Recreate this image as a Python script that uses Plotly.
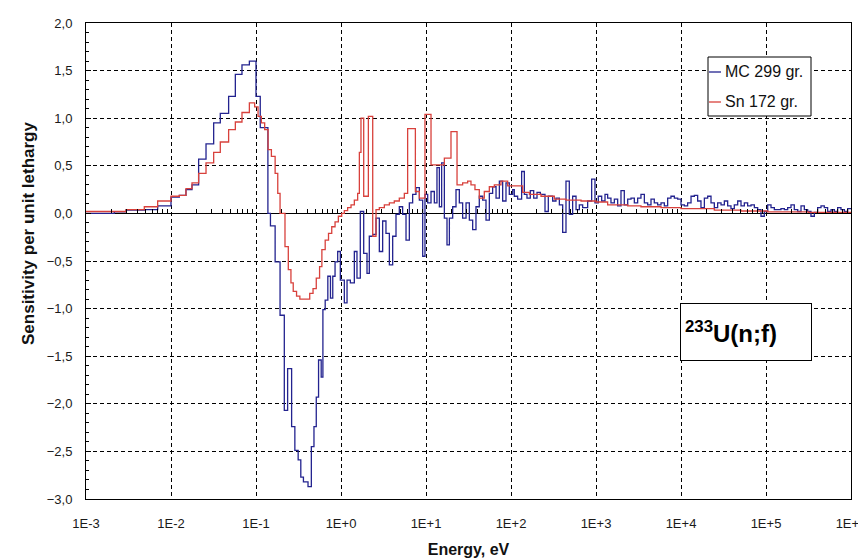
import numpy as np
import plotly.graph_objects as go

# ---- data: log10 of lower group boundary (eV) and sensitivity per unit lethargy ----
mc_log_e = [
    -3.000, -2.667, -2.529, -2.314, -2.157, -2.000, -1.902, -1.824, -1.753, -1.675,
    -1.588, -1.498, -1.420, -1.322, -1.243, -1.165, -1.078, -1.000, -0.950, -0.860,
    -0.830, -0.775, -0.717, -0.667, -0.628, -0.581, -0.543, -0.504, -0.473, -0.442,
    -0.388, -0.349, -0.318, -0.291, -0.264, -0.233, -0.213, -0.186, -0.155, -0.124,
    -0.097, -0.070, -0.039, -0.008, 0.039, 0.071, 0.110, 0.157, 0.188, 0.227,
    0.267, 0.306, 0.333, 0.373, 0.412, 0.451, 0.490, 0.529, 0.569, 0.608,
    0.647, 0.686, 0.725, 0.765, 0.804, 0.843, 0.882, 0.922, 0.961, 0.988,
    1.020, 1.059, 1.098, 1.129, 1.157, 1.184, 1.216, 1.247, 1.275, 1.314,
    1.353, 1.392, 1.431, 1.471, 1.510, 1.549, 1.588, 1.627, 1.667, 1.706,
    1.745, 1.784, 1.824, 1.863, 1.902, 1.941, 1.980, 2.020, 2.039, 2.078,
    2.125, 2.157, 2.188, 2.227, 2.267, 2.306, 2.345, 2.400, 2.439, 2.490,
    2.529, 2.569, 2.608, 2.647, 2.686, 2.725, 2.765, 2.804, 2.843, 2.902,
    2.949, 2.988, 3.027, 3.067, 3.106, 3.137, 3.176, 3.216, 3.255, 3.294,
    3.333, 3.373, 3.412, 3.451, 3.490, 3.529, 3.569, 3.608, 3.647, 3.686,
    3.725, 3.765, 3.804, 3.843, 3.882, 3.922, 3.961, 4.000, 4.039, 4.078,
    4.118, 4.157, 4.196, 4.235, 4.275, 4.314, 4.353, 4.392, 4.431, 4.471,
    4.510, 4.549, 4.588, 4.627, 4.667, 4.706, 4.745, 4.784, 4.824, 4.863,
    4.902, 4.941, 4.980, 5.020, 5.059, 5.098, 5.137, 5.176, 5.216, 5.255,
    5.294, 5.333, 5.373, 5.412, 5.451, 5.490, 5.529, 5.569, 5.608, 5.647,
    5.686, 5.725, 5.765, 5.804, 5.843, 5.882, 5.922, 5.961,
]
mc_sens = [
    0.00, 0.015, 0.035, 0.04, 0.08, 0.17, 0.19, 0.25, 0.30, 0.57,
    0.73, 0.95, 1.05, 1.23, 1.46, 1.56, 1.60, 1.23, 0.90, 0.00,
    -0.13, -0.51, -1.07, -2.07, -1.63, -2.24, -2.49, -2.59, -2.77, -2.82,
    -2.87, -2.45, -2.24, -1.93, -1.54, -1.72, -1.01, -0.91, -0.66, -0.89,
    -0.66, -0.51, -0.40, -0.70, -0.94, -0.70, -0.73, -0.40, -0.68, 0.02,
    -0.42, -0.63, -0.24, -0.22, -0.05, -0.40, -0.08, -0.21, -0.54, -0.24,
    -0.01, 0.07, -0.01, -0.28, 0.11, 0.20, 0.27, 0.14, -0.45, 0.20,
    0.11, 0.23, 0.11, 0.48, 0.07, 0.53, -0.05, -0.33, -0.05, 0.07,
    0.25, 0.11, -0.05, 0.11, -0.07, -0.17, 0.07, 0.18, 0.14, -0.07,
    0.21, 0.28, 0.16, 0.34, 0.13, 0.32, 0.20, 0.25, 0.18, 0.15,
    0.44, 0.20, 0.16, 0.24, 0.16, 0.22, 0.20, 0.02, 0.18, 0.13,
    0.16, 0.09, -0.20, 0.34, -0.01, 0.18, 0.04, 0.09, 0.06, 0.13,
    0.36, 0.11, 0.18, 0.13, 0.20, 0.16, 0.11, 0.15, 0.08, 0.24,
    0.09, 0.15, 0.16, 0.11, 0.16, 0.20, 0.11, 0.09, 0.15, 0.11,
    0.09, 0.11, 0.08, 0.16, 0.18, 0.16, 0.15, 0.09, 0.08, 0.11,
    0.18, 0.19, 0.13, 0.06, 0.16, 0.18, 0.11, 0.06, 0.11, 0.09,
    0.13, 0.08, 0.05, 0.09, 0.13, 0.08, 0.11, 0.08, 0.09, 0.06,
    0.04, -0.03, 0.02, 0.09, 0.06, 0.04, 0.04, 0.05, 0.04, 0.06,
    0.09, 0.04, 0.02, 0.08, 0.04, 0.02, -0.03, 0.01, 0.06, 0.08,
    0.06, 0.02, 0.04, 0.02, 0.06, 0.04, 0.02, 0.05,
]
sn_log_e = [
    -3.000, -2.529, -2.314, -2.157, -2.000, -1.902, -1.824, -1.753, -1.675, -1.588,
    -1.498, -1.420, -1.322, -1.243, -1.165, -1.078, -1.016, -0.976, -0.937, -0.898,
    -0.858, -0.819, -0.775, -0.744, -0.717, -0.659, -0.620, -0.589, -0.562, -0.523,
    -0.484, -0.368, -0.329, -0.291, -0.252, -0.225, -0.186, -0.147, -0.109, -0.070,
    -0.031, 0.008, 0.039, 0.078, 0.118, 0.157, 0.196, 0.216, 0.235, 0.267,
    0.322, 0.373, 0.412, 0.451, 0.510, 0.569, 0.627, 0.686, 0.745, 0.784,
    0.875, 0.922, 0.988, 1.059, 1.216, 1.294, 1.365, 1.431, 1.490, 1.529,
    1.576, 1.627, 1.686, 1.745, 1.804, 1.882, 1.961, 2.137, 2.216, 2.353,
    2.510, 2.647, 2.824, 3.000, 3.137, 3.373, 3.529, 3.765, 4.000, 4.392,
    4.706, 5.020, 5.500,
]
sn_sens = [
    0.02, 0.04, 0.07, 0.13, 0.18, 0.19, 0.26, 0.32, 0.42, 0.53,
    0.64, 0.75, 0.88, 0.96, 1.06, 1.16, 1.12, 1.02, 0.95, 0.88,
    0.67, 0.60, 0.42, 0.21, 0.00, -0.35, -0.59, -0.73, -0.82, -0.87,
    -0.90, -0.84, -0.79, -0.68, -0.56, -0.38, -0.28, -0.21, -0.14, -0.09,
    -0.03, 0.00, 0.03, 0.06, 0.09, 0.14, 0.21, 0.64, 1.00, 0.18,
    1.02, -0.24, 0.04, 0.06, 0.09, 0.11, 0.13, 0.16, 0.21, 0.89,
    0.23, 0.16, 1.04, 0.51, 0.58, 0.86, 0.30, 0.32, 0.34, 0.30,
    0.25, 0.16, 0.23, 0.28, 0.30, 0.34, 0.29, 0.22, 0.20, 0.18,
    0.15, 0.14, 0.13, 0.12, 0.09, 0.08, 0.07, 0.06, 0.05, 0.035,
    0.025, 0.015, 0.01,
]
log_e_max = 6.0

x_tick_vals = [1e-3, 1e-2, 1e-1, 1e0, 1e1, 1e2, 1e3, 1e4, 1e5, 1e6]
x_tick_text = ["1E-3", "1E-2", "1E-1", "1E+0", "1E+1", "1E+2", "1E+3", "1E+4", "1E+5", "1E+6"]

series_names = ["MC 299 gr.", "Sn 172 gr."]
series_colors = ["#23238f", "#d8413c"]


def steps(log_edges, vals, end):
    x = 10 ** np.array(list(log_edges) + [end])
    y = list(vals) + [vals[-1]]
    return x, y


FONT = "Liberation Sans, Arial, sans-serif"
W, H = 866, 559
ML, MR, MT, MB = 78, 23, 15, 68
PW, PH = W - ML - MR, H - MT - MB


def px(xp):
    return (xp - ML) / PW


def py(yp):
    return 1 - (yp - MT) / PH


fig = go.Figure()
for name, color, le, sv in [
    (series_names[0], series_colors[0], mc_log_e, mc_sens),
    (series_names[1], series_colors[1], sn_log_e, sn_sens),
]:
    xs, ys = steps(le, sv, log_e_max)
    fig.add_trace(go.Scatter(x=xs, y=ys, mode="lines", name=name,
                             line=dict(color=color, width=1.3, shape="hv"),
                             showlegend=False))

# helper axis on the zero line carrying the small tick marks
minor_vals = [m * 10.0 ** k for k in range(-3, 6) for m in range(2, 10)]
fig.add_trace(go.Scatter(x=[1e-3, 1e6], y=[None, None], xaxis="x2", mode="lines",
                         showlegend=False, hoverinfo="skip"))

fig.update_layout(
    width=W, height=H,
    margin=dict(l=ML, r=MR, t=MT, b=MB, autoexpand=False),
    paper_bgcolor="white", plot_bgcolor="white",
    separators=", ",
    font=dict(family=FONT, size=13, color="#1a1a1a"),
    showlegend=False,
    xaxis=dict(type="log", range=[-3, 6], tickvals=x_tick_vals, ticktext=x_tick_text,
               automargin=False,
               showgrid=True, gridcolor="black", griddash="4px,3px", gridwidth=1,
               showline=True, linecolor="black", linewidth=1, mirror=True,
               ticks="", zeroline=False, ticklabelstandoff=12,
               tickfont=dict(family=FONT, size=13, color="#1a1a1a"),
               title=dict(text="<b>Energy, eV</b>", font=dict(family=FONT, size=16, color="#111"),
                          standoff=14)),
    xaxis2=dict(type="log", range=[-3, 6], overlaying="x", anchor="free", position=0.6,
                side="bottom", tickvals=minor_vals, ticks="inside", ticklen=4,
                tickcolor="black", showticklabels=False, showgrid=False,
                showline=False, zeroline=False, automargin=False),
    yaxis=dict(range=[-3, 2], dtick=0.5, tick0=0, tickformat=".1f", automargin=False,
               showgrid=True, gridcolor="black", griddash="4px,3px", gridwidth=1,
               zeroline=True, zerolinecolor="black", zerolinewidth=1,
               showline=True, linecolor="black", linewidth=1, mirror=True,
               ticks="inside", ticklen=5, tickcolor="black",
               minor=dict(dtick=0.1, ticks="inside", ticklen=3, tickcolor="black", showgrid=False),
               ticklabelstandoff=10,
               tickfont=dict(family=FONT, size=13, color="#1a1a1a")),
)

# y-axis title (placed like the reference, slightly above the plot centre)
fig.add_annotation(xref="paper", yref="paper", x=px(20), y=py(226),
                   xanchor="center", yanchor="middle", showarrow=False, textangle=-90,
                   text="<b>Sensitivity per unit lethargy</b>",
                   font=dict(family=FONT, size=17, color="#111"))

# legend box drawn in the reference style (short line samples)
leg_x0, leg_x1, leg_y0, leg_y1 = 700, 803, 49, 108
fig.add_shape(type="rect", xref="paper", yref="paper",
              x0=px(leg_x0), x1=px(leg_x1), y0=py(leg_y1), y1=py(leg_y0),
              line=dict(color="black", width=1), fillcolor="white", layer="above")
for i, (name, color) in enumerate(zip(series_names, series_colors)):
    yrow = 64 + 30 * i
    fig.add_shape(type="line", xref="paper", yref="paper",
                  x0=px(leg_x0 + 1), x1=px(leg_x0 + 13), y0=py(yrow), y1=py(yrow),
                  line=dict(color=color, width=1.3), layer="above")
    fig.add_annotation(xref="paper", yref="paper", x=px(leg_x0 + 15), y=py(yrow),
                       xanchor="left", yanchor="middle", showarrow=False,
                       text=name, font=dict(family=FONT, size=16, color="#111"))

# reaction label box
fig.add_annotation(xref="paper", yref="paper", x=px(672), y=py(295),
                   xanchor="left", yanchor="top", showarrow=False,
                   text="<b><sup>233</sup>U(n;f)</b>", align="left",
                   font=dict(family=FONT, size=24, color="black"),
                   bordercolor="black", borderwidth=1, bgcolor="white",
                   width=122, height=48, borderpad=4)

fig.write_html("out.html")
